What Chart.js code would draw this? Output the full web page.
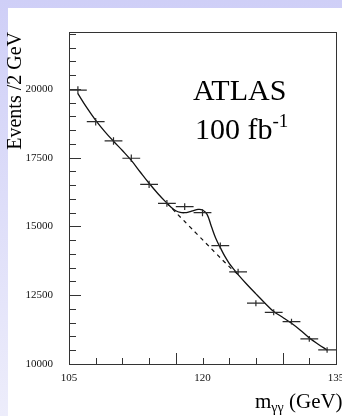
<!DOCTYPE html>
<html>
<head>
<meta charset="utf-8">
<script src="https://cdn.jsdelivr.net/npm/chart.js@4/dist/chart.umd.min.js"></script>
<style>
  html, body { margin: 0; padding: 0; }
  body {
    width: 342px; height: 416px; overflow: hidden; position: relative;
    background: linear-gradient(to bottom, #cfcff7, #ededfb);
    font-family: "Liberation Serif", "Times New Roman", serif;
  }
  #panel { position: absolute; left: 8px; top: 8px; width: 334px; height: 408px; background: #fff; }
  #wrap { position: absolute; left: 0; top: 0; width: 342px; height: 416px; }
  .txt { position: absolute; color: #000; white-space: nowrap; line-height: 1; }
  #atlas { left: 193px; top: 75px; font-size: 30px; }
  #lumi { left: 195px; top: 114px; font-size: 30px; }
  #lumi sup { font-size: 19px; position: relative; top: -3px; vertical-align: top; }
  #xtitle { left: 255px; top: 391px; font-size: 21px; }
  #xtitle sub { font-size: 14px; vertical-align: -4px; }
</style>
</head>
<body>
<div id="panel"></div>
<div id="wrap"><canvas id="chart" width="342" height="416"></canvas></div>
<div class="txt" id="atlas">ATLAS</div>
<div class="txt" id="lumi">100 fb<sup>-1</sup></div>
<div class="txt" id="xtitle">m<sub>γγ</sub> (GeV)</div>
<script>
// measured points (2 GeV bins)
const mass = [106, 108, 110, 112, 114, 116, 118, 120, 122, 124, 126, 128, 130, 132, 134];
const events = [19960, 18810, 18110, 17480, 16530, 15840, 15720, 15500, 14300, 13350, 12210, 11880, 11540, 10910, 10510];
const eventErr = [140, 137, 135, 132, 128, 126, 125, 124, 120, 116, 110, 109, 107, 105, 103];
const binWidth = 2;

// signal + background fit
const fitMass = [106, 107, 108, 109, 110, 111, 112, 113, 114, 115, 116, 116.5, 117, 117.5, 118, 118.5, 119, 119.5, 120, 120.5, 121, 121.5, 122, 122.5, 123, 123.5, 124, 125, 126, 127, 128, 129, 130, 131, 132, 133, 134];
const fitEvents = [19830, 19320, 18860, 18460, 18100, 17760, 17400, 16980, 16570, 16190, 15850, 15690, 15570, 15510, 15500, 15530, 15580, 15620, 15600, 15450, 15000, 14560, 14230, 13920, 13660, 13450, 13250, 12890, 12550, 12220, 11910, 11700, 11480, 11230, 10950, 10720, 10510];

// background only, under the peak
const bkgMass = [116, 117, 118, 119, 120, 121, 122, 123, 124];
const bkgEvents = [15850, 15510, 15180, 14850, 14520, 14190, 13860, 13540, 13250];

// axes
const yLabels = [10000, 12500, 15000, 17500, 20000];
const yMinorStep = 500;
const xLabels = [105, 120, 135];
const xShortTicks = [108, 111, 114, 120, 123, 126, 132];
const xLongTicks = [117, 129];

const framePlugin = {
  id: 'frame',
  afterDatasetsDraw(chart) {
    const ctx = chart.ctx;
    const a = chart.chartArea;
    const xs = chart.scales.x, ys = chart.scales.y;
    ctx.save();

    // error bar crosses
    ctx.strokeStyle = '#2a2a2a';
    ctx.lineWidth = 1.2;
    mass.forEach((m, i) => {
      const px = xs.getPixelForValue(m);
      const py = ys.getPixelForValue(events[i]);
      ctx.beginPath();
      ctx.moveTo(xs.getPixelForValue(m - binWidth / 2), py);
      ctx.lineTo(xs.getPixelForValue(m + binWidth / 2), py);
      ctx.moveTo(px, ys.getPixelForValue(events[i] + eventErr[i]));
      ctx.lineTo(px, ys.getPixelForValue(events[i] - eventErr[i]));
      ctx.stroke();
    });

    // frame
    ctx.strokeStyle = '#333';
    ctx.lineWidth = 1;
    ctx.strokeRect(Math.round(a.left) + 0.5, Math.round(a.top) + 0.5,
      Math.round(a.right - a.left), Math.round(a.bottom - a.top));

    // y ticks (inside)
    ctx.beginPath();
    for (let v = ys.min - ys.min % yMinorStep; v <= ys.max; v += yMinorStep) {
      if (v < ys.min) continue;
      const py = Math.round(ys.getPixelForValue(v)) + 0.5;
      const len = yLabels.includes(v) ? 12 : 7;
      ctx.moveTo(a.left, py);
      ctx.lineTo(a.left + len, py);
    }
    // x ticks (inside)
    xShortTicks.forEach(v => {
      const px = Math.round(xs.getPixelForValue(v)) + 0.5;
      ctx.moveTo(px, a.bottom);
      ctx.lineTo(px, a.bottom - 6);
    });
    xLongTicks.forEach(v => {
      const px = Math.round(xs.getPixelForValue(v)) + 0.5;
      ctx.moveTo(px, a.bottom);
      ctx.lineTo(px, a.bottom - 11);
    });
    ctx.stroke();
    ctx.restore();
  }
};

const ctx = document.getElementById('chart');
new Chart(ctx, {
  type: 'scatter',
  data: {
    datasets: [
      {
        label: 'data',
        data: mass.map((m, i) => ({ x: m, y: events[i] })),
        pointRadius: 0,
        showLine: false
      },
      {
        label: 'fit',
        data: fitMass.map((m, i) => ({ x: m, y: fitEvents[i] })),
        showLine: true,
        pointRadius: 0,
        borderColor: '#111',
        borderWidth: 1.3,
        tension: 0.4
      },
      {
        label: 'background',
        data: bkgMass.map((m, i) => ({ x: m, y: bkgEvents[i] })),
        showLine: true,
        pointRadius: 0,
        borderColor: '#111',
        borderWidth: 1.2,
        borderDash: [4, 4],
        tension: 0.3
      }
    ]
  },
  options: {
    responsive: false,
    animation: false,
    events: [],
    layout: { padding: { left: 0, top: 32, right: 6, bottom: 0 } },
    plugins: { legend: { display: false }, tooltip: { enabled: false } },
    scales: {
      x: {
        type: 'linear',
        min: 105,
        max: 135,
        grid: { display: false, drawTicks: false },
        border: { display: false },
        afterBuildTicks: s => { s.ticks = xLabels.map(v => ({ value: v })); },
        afterFit: s => { s.height = 52; s.paddingLeft = 0; s.paddingRight = 0; },
        ticks: {
          autoSkip: false,
          maxRotation: 0,
          padding: 8,
          color: '#111',
          font: { family: 'Liberation Serif', size: 11 },
          callback: v => String(v)
        }
      },
      y: {
        type: 'linear',
        min: 10000,
        max: 22070,
        grid: { display: false, drawTicks: false },
        border: { display: false },
        afterBuildTicks: s => { s.ticks = yLabels.map(v => ({ value: v })); },
        afterFit: s => { s.width = 69; s.paddingTop = 0; s.paddingBottom = 0; },
        ticks: {
          autoSkip: false,
          padding: 16,
          color: '#111',
          font: { family: 'Liberation Serif', size: 11 },
          callback: v => String(v)
        },
        title: {
          display: true,
          text: 'Events /2 GeV',
          align: 'end',
          color: '#000',
          padding: { top: 4, bottom: 0 },
          font: { family: 'Liberation Serif', size: 20 }
        }
      }
    }
  },
  plugins: [framePlugin]
});
</script>
</body>
</html>
